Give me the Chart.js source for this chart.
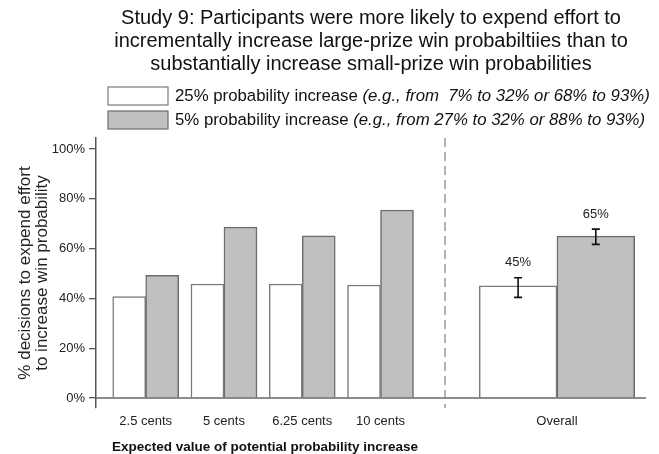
<!DOCTYPE html>
<html>
<head>
<meta charset="utf-8">
<script src="https://cdn.jsdelivr.net/npm/chart.js@4.4.1/dist/chart.umd.min.js"></script>
<style>
  html, body { margin: 0; padding: 0; background: #ffffff; }
  #wrap { width: 659px; height: 454px; }
</style>
</head>
<body>
<div id="wrap"><canvas id="chart" width="659" height="454"></canvas></div>
<script>
// ---- data ----
const titleLines = [
  'Study 9: Participants were more likely to expend effort to',
  'incrementally increase large-prize win probabiltiies than to',
  'substantially increase small-prize win probabilities'
];
const seriesNames = ['25% probability increase', '5% probability increase'];
const seriesExamples = ['(e.g., from  7% to 32% or 68% to 93%)', '(e.g., from 27% to 32% or 88% to 93%)'];
const categories = ['2.5 cents', '5 cents', '6.25 cents', '10 cents'];
const largeIncrease = [40.7, 45.8, 45.8, 45.4];
const smallIncrease = [49.3, 68.6, 65.1, 75.5];
const overallLabel = 'Overall';
const overallValues = [45, 65];
const overallLow = [40.4, 61.7];
const overallHigh = [48.3, 67.8];
const yTicks = [0, 20, 40, 60, 80, 100];
const yTitle = ['% decisions to expend effort', 'to increase win probability'];
const xTitle = 'Expected value of potential probability increase';

// ---- styling ----
const FONT = "'Liberation Sans', Arial, Helvetica, sans-serif";
const fills = ['#ffffff', '#c0c0c0'];
const borders = ['#7a7a7a', '#6c6c6c'];
const slots = ['large', 'small'];

Chart.defaults.font.family = FONT;
Chart.defaults.color = '#222222';

const seriesData = [largeIncrease, smallIncrease];

// Every dataset draws vertical bars; each panel groups its own pair of bars.
const datasets = [];
// per-amount groups on the left panel axis
seriesData.forEach((vals, s) => {
  datasets.push({
    label: seriesNames[s],
    indexAxis: 'x',
    data: vals.map((v, i) => ({ x: i, y: v })),
    xAxisID: 'xL',
    stack: slots[s],
    backgroundColor: fills[s],
    borderColor: borders[s],
    borderWidth: 1.5,
    barThickness: 33
  });
});
// overall group on the right panel axis
overallValues.forEach((v, s) => {
  datasets.push({
    label: seriesNames[s] + ' (overall)',
    indexAxis: 'x',
    data: [{ x: 0, y: v }],
    xAxisID: 'xR',
    stack: slots[s],
    backgroundColor: fills[s],
    borderColor: borders[s],
    borderWidth: 1.5,
    barThickness: 77.7
  });
});

const decorations = {
  id: 'decorations',
  afterDatasetsDraw(chart) {
    const { ctx, chartArea: area, scales } = chart;
    const y = scales.y, xR = scales.xR, xL = scales.xL;
    ctx.save();

    // zero baseline
    const y0 = y.getPixelForValue(0);
    ctx.strokeStyle = '#666666';
    ctx.lineWidth = 1.5;
    ctx.beginPath();
    ctx.moveTo(area.left, y0);
    ctx.lineTo(area.right, y0);
    ctx.stroke();

    // dashed divider between the two panels
    ctx.strokeStyle = '#8a8a8a';
    ctx.lineWidth = 1.3;
    ctx.setLineDash([9, 5]);
    ctx.beginPath();
    ctx.moveTo(xR.left, area.top);
    ctx.lineTo(xR.left, area.bottom);
    ctx.stroke();
    ctx.setLineDash([]);

    // error bars and value labels for the overall bars
    overallValues.forEach((v, k) => {
      const bar = chart.getDatasetMeta(2 + k).data[0];
      const x = bar.x;
      const yl = y.getPixelForValue(overallLow[k]);
      const yh = y.getPixelForValue(overallHigh[k]);
      ctx.strokeStyle = '#111111';
      ctx.lineWidth = 1.6;
      ctx.beginPath();
      ctx.moveTo(x, yl); ctx.lineTo(x, yh);
      ctx.moveTo(x - 4, yl); ctx.lineTo(x + 4, yl);
      ctx.moveTo(x - 4, yh); ctx.lineTo(x + 4, yh);
      ctx.stroke();
      ctx.fillStyle = '#222222';
      ctx.font = '13px ' + FONT;
      ctx.textAlign = 'center';
      ctx.textBaseline = 'middle';
      ctx.fillText(v + '%', x, yh - 15);
    });

    // axis title under the per-amount panel
    ctx.fillStyle = '#111111';
    ctx.font = 'bold 13.5px ' + FONT;
    ctx.textAlign = 'left';
    ctx.textBaseline = 'middle';
    ctx.fillText(xTitle, xL.left + 16, xL.bottom - 7);

    // legend with plain name and italic example
    seriesNames.forEach((name, s) => {
      const cy = area.top - 42 + s * 24;
      const bx = area.left + 12;
      ctx.fillStyle = fills[s];
      ctx.fillRect(bx, cy - 9, 60, 18);
      ctx.strokeStyle = borders[s];
      ctx.lineWidth = 1.2;
      ctx.strokeRect(bx, cy - 9, 60, 18);
      ctx.fillStyle = '#111111';
      ctx.textAlign = 'left';
      ctx.textBaseline = 'middle';
      ctx.font = '16.8px ' + FONT;
      const tx = bx + 67;
      ctx.fillText(name + ' ', tx, cy);
      const w = ctx.measureText(name + ' ').width;
      ctx.font = 'italic 16.8px ' + FONT;
      ctx.fillText(seriesExamples[s], tx + w, cy);
    });

    ctx.restore();
  }
};

new Chart(document.getElementById('chart'), {
  type: 'bar',
  data: { datasets },
  options: {
    // chart-level axis is 'y' so the two panel axes are not merged into one bar group;
    // each dataset sets indexAxis 'x' and still draws vertical bars
    indexAxis: 'y',
    responsive: false,
    animation: false,
    devicePixelRatio: 1,
    layout: { padding: { top: 0, left: 0, right: 13, bottom: 0 } },
    plugins: {
      legend: { display: false },
      tooltip: { enabled: false },
      title: {
        display: true,
        text: titleLines,
        fullSize: false,
        color: '#111111',
        font: { size: 20, weight: 'normal', lineHeight: 1.15 },
        padding: { top: 6.5, bottom: 62.5 }
      }
    },
    scales: {
      y: {
        type: 'linear',
        position: 'left',
        offset: false,
        min: -4,
        max: 104.4,
        afterBuildTicks: (scale) => { scale.ticks = yTicks.map(v => ({ value: v })); },
        afterFit: (scale) => { scale.width = 96; },
        ticks: { callback: (v) => v + '%', font: { size: 13 }, color: '#222222', padding: 4 },
        grid: { drawOnChartArea: false, offset: false, tickLength: 7, color: '#555555', lineWidth: 1.3 },
        border: { display: true, color: '#555555', width: 1.5 },
        title: {
          display: true,
          text: yTitle,
          color: '#222222',
          font: { size: 17, lineHeight: 1.0 },
          padding: { top: 16.5, bottom: 0 }
        }
      },
      xL: {
        type: 'linear',
        axis: 'x',
        position: 'bottom',
        stack: 'panels',
        stackWeight: 349,
        offset: false,
        min: -0.635,
        max: 3.824,
        afterBuildTicks: (scale) => { scale.ticks = categories.map((c, i) => ({ value: i })); },
        afterFit: (scale) => { scale.height = 46; },
        ticks: { callback: (v) => categories[v], font: { size: 13 }, color: '#222222', padding: -2, maxRotation: 0, autoSkip: false },
        grid: { display: false, offset: false },
        border: { display: false }
      },
      xR: {
        type: 'linear',
        axis: 'x',
        position: 'bottom',
        stack: 'panels',
        stackWeight: 201,
        offset: false,
        min: -0.557,
        max: 0.443,
        afterBuildTicks: (scale) => { scale.ticks = [{ value: 0 }]; },
        afterFit: (scale) => { scale.height = 46; },
        ticks: { callback: () => overallLabel, font: { size: 13 }, color: '#222222', padding: -2, maxRotation: 0, autoSkip: false },
        grid: { display: false, offset: false },
        border: { display: false }
      }
    }
  },
  plugins: [decorations]
});
</script>
</body>
</html>
